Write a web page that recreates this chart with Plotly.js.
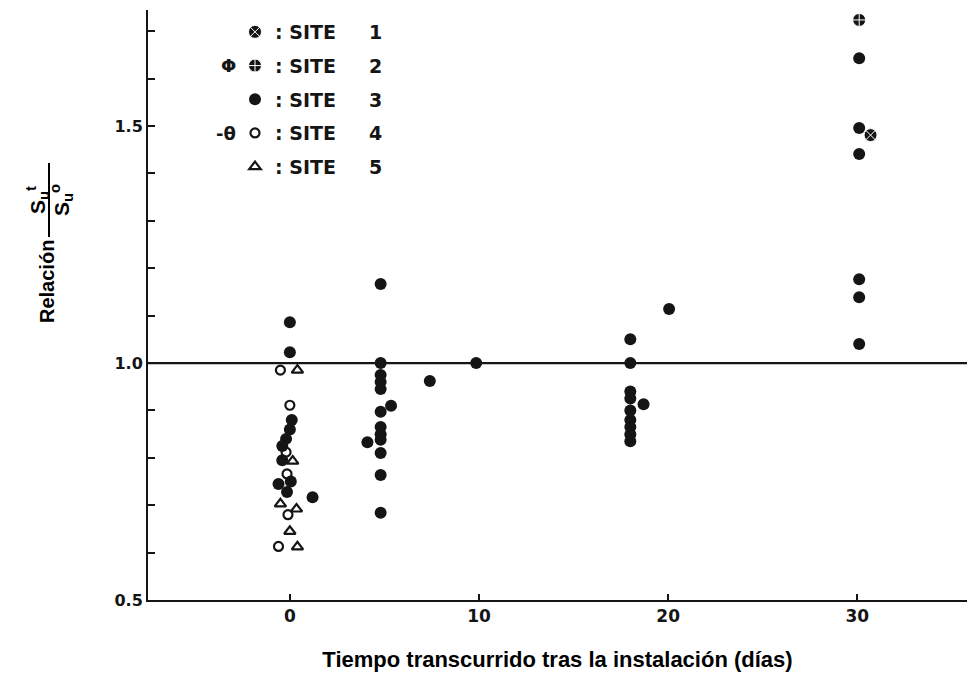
<!DOCTYPE html>
<html>
<head>
<meta charset="utf-8">
<script src="https://cdn.plot.ly/plotly-3.0.1.min.js"></script>
<style>html,body{margin:0;padding:0;background:#fff;}#chart{width:967px;height:673px;}</style>
</head>
<body>
<div id="chart"></div>
<script>
// ---- data ----
const siteNames = [": SITE\u00a0\u00a0\u00a0\u00a0\u00a01", ": SITE\u00a0\u00a0\u00a0\u00a0\u00a02", ": SITE\u00a0\u00a0\u00a0\u00a0\u00a03", ": SITE\u00a0\u00a0\u00a0\u00a0\u00a04", ": SITE\u00a0\u00a0\u00a0\u00a0\u00a05"];

const site1X = [30.7];
const site1Y = [1.481];

const site2X = [30.1];
const site2Y = [1.724];

const site3X = [0, 0, 0.1, 0, -0.2, -0.4, -0.4, -0.6, 0.05, -0.15, 1.2,
                4.8, 4.8, 4.8, 4.8, 4.8, 5.35, 4.8, 4.8, 4.8, 4.8, 4.1, 4.8, 4.8, 4.8,
                7.4, 9.85,
                18, 18, 18, 18, 18.7, 18, 18, 18, 18, 18,
                20.05,
                30.1, 30.1, 30.1, 30.1, 30.1, 30.1];
const site3Y = [1.086, 1.023, 0.88, 0.86, 0.84, 0.825, 0.795, 0.745, 0.75, 0.728, 0.717,
                1.167, 1.0, 0.975, 0.96, 0.945, 0.91, 0.897, 0.865, 0.85, 0.838, 0.833, 0.81, 0.764, 0.684,
                0.962, 1.0,
                1.05, 1.0, 0.94, 0.925, 0.913, 0.90, 0.88, 0.865, 0.85, 0.835,
                1.114,
                1.643, 1.496, 1.441, 1.177, 1.139, 1.04];

const site4X = [-0.5, 0, -0.2, -0.15, -0.1, -0.6];
const site4Y = [0.985, 0.911, 0.812, 0.766, 0.68, 0.613];

const site5X = [0.4, 0.15, -0.5, 0.35, 0, 0.4];
const site5Y = [0.985, 0.793, 0.703, 0.692, 0.645, 0.612];

const xTickVals = [0, 10, 20, 30];
const xTickText = ["0", "10", "20", "30"];
const yTickVals = [0.5, 0.6, 0.7, 0.8, 0.9, 1.0, 1.1, 1.2, 1.3, 1.4, 1.5, 1.6, 1.7];
const yTickText = ["0.5", "", "", "", "", "1.0", "", "", "", "", "1.5", "", ""];

const refLineY = 1.0;

// ---- traces ----
const ink = "#151515";
const traces = [
  {x: site1X, y: site1Y, name: siteNames[0], legendgroup: "s1", mode: "markers", type: "scatter",
   marker: {symbol: "circle-x", size: 13, color: ink, line: {color: "#ffffff", width: 1}}},
  {x: site2X, y: site2Y, name: siteNames[1], legendgroup: "s2", mode: "markers", type: "scatter",
   marker: {symbol: "circle-cross", size: 13, color: ink, line: {color: "#ffffff", width: 1}}},
  {x: site3X, y: site3Y, name: siteNames[2], legendgroup: "s3", mode: "markers", type: "scatter",
   marker: {symbol: "circle", size: 12, color: ink}},
  {x: site4X, y: site4Y, name: siteNames[3], legendgroup: "s4", mode: "markers", type: "scatter",
   marker: {symbol: "circle-open", size: 9, color: ink, line: {color: ink, width: 2.2}}},
  {x: site5X, y: site5Y, name: siteNames[4], legendgroup: "s5", mode: "markers", type: "scatter",
   marker: {symbol: "triangle-up-open", size: 10, color: ink, line: {color: ink, width: 2.2}}}
];

const L = 148, T = 10, W = 967, H = 673, B = 73;
const pw = W - L, ph = H - T - B;
const px = v => (v - L) / pw;
const py = v => (H - B - v) / ph;

const layout = {
  width: W, height: H,
  margin: {l: L, r: 0, t: T, b: B, pad: 0},
  paper_bgcolor: "#ffffff", plot_bgcolor: "#ffffff",
  showlegend: true,
  legend: {
    x: px(235), y: py(13), xanchor: "left", yanchor: "top",
    bgcolor: "rgba(0,0,0,0)", borderwidth: 0,
    traceorder: "grouped", tracegroupgap: 6,
    font: {family: "DejaVu Sans", size: 19, color: ink, weight: "bold"}
  },
  xaxis: {
    range: [-7.5, 35.8], showgrid: false, zeroline: false,
    showline: true, linecolor: ink, linewidth: 2,
    ticks: "inside", ticklen: 6, tickwidth: 2, tickcolor: ink,
    tickvals: xTickVals, ticktext: xTickText,
    tickfont: {family: "DejaVu Sans", size: 17, color: ink, weight: "bold"},
    title: {text: "Tiempo transcurrido tras la instalación (días)", standoff: 26,
            font: {family: "Liberation Sans", size: 22, color: "#000", weight: "bold"}}
  },
  yaxis: {
    range: [0.5, 1.745], showgrid: false, zeroline: false,
    showline: true, linecolor: ink, linewidth: 2,
    ticks: "inside", ticklen: 7, tickwidth: 2, tickcolor: ink,
    tickvals: yTickVals, ticktext: yTickText,
    tickfont: {family: "DejaVu Sans", size: 16, color: ink, weight: "bold"}
  },
  shapes: [
    {type: "line", xref: "paper", x0: 0, x1: 1, yref: "y", y0: refLineY, y1: refLineY,
     line: {color: ink, width: 2.2}},
    {type: "line", xref: "paper", x0: px(49), x1: px(49), yref: "paper", y0: py(237), y1: py(163),
     line: {color: "#000", width: 2}}
  ],
  annotations: [
    {text: "<b>Relación</b>", xref: "paper", yref: "paper", x: px(47), y: py(282), textangle: -90,
     showarrow: false, xanchor: "center", yanchor: "middle",
     font: {family: "Liberation Sans", size: 20, color: "#000"}},
    {text: "<b>S<sub>u</sub><sup>t</sup></b>", xref: "paper", yref: "paper", x: px(37), y: py(200), textangle: -90,
     showarrow: false, xanchor: "center", yanchor: "middle",
     font: {family: "Liberation Sans", size: 21, color: "#000"}},
    {text: "<b>S<sub>u</sub><sup>o</sup></b>", xref: "paper", yref: "paper", x: px(61), y: py(200), textangle: -90,
     showarrow: false, xanchor: "center", yanchor: "middle",
     font: {family: "Liberation Sans", size: 21, color: "#000"}},
    {text: "<b>Φ</b>", xref: "paper", yref: "paper", x: px(228), y: py(66),
     showarrow: false, xanchor: "center", yanchor: "middle",
     font: {family: "DejaVu Sans", size: 18, color: ink}},
    {text: "<b>-θ</b>", xref: "paper", yref: "paper", x: px(226), y: py(133),
     showarrow: false, xanchor: "center", yanchor: "middle",
     font: {family: "DejaVu Sans", size: 18, color: ink}}
  ]
};

Plotly.newPlot("chart", traces, layout, {displayModeBar: false, staticPlot: true});
</script>
</body>
</html>
